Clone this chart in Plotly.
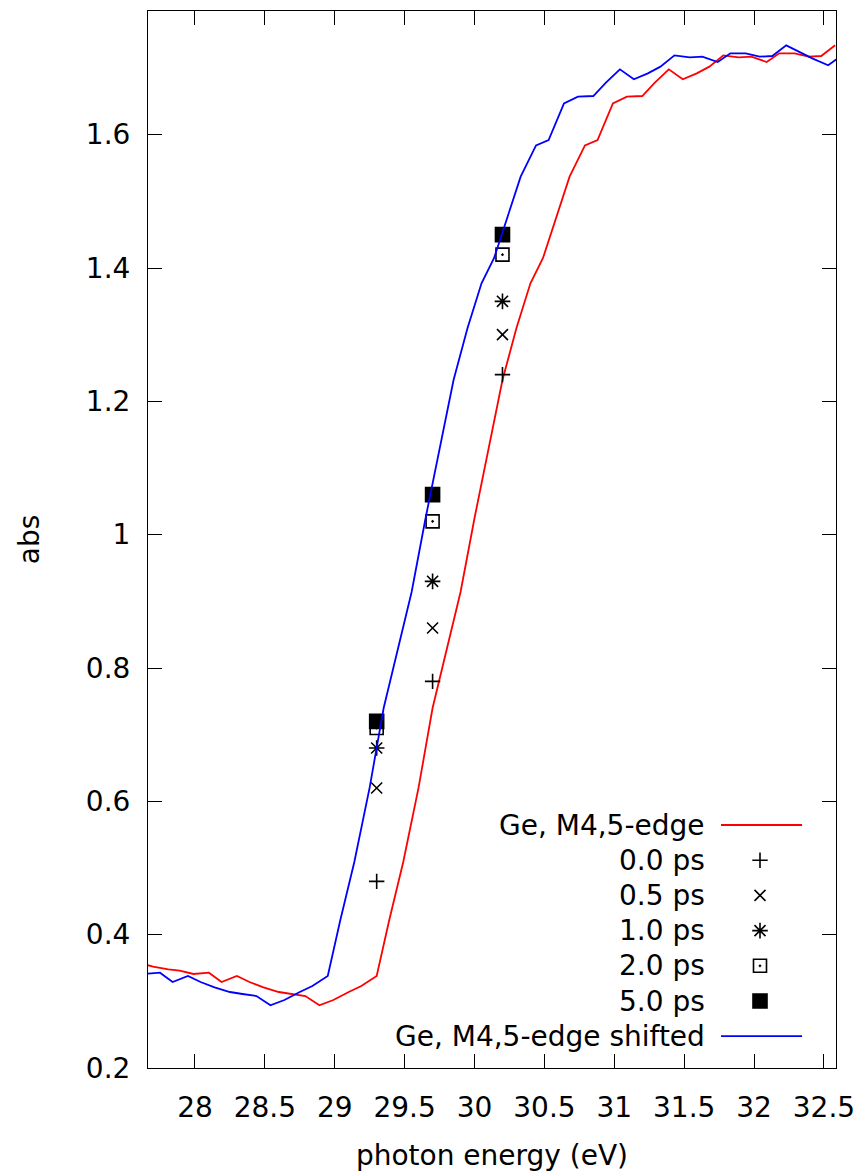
import plotly.graph_objects as go

# ---------------- data ----------------
energy_ev = [27.60, 27.70, 27.81, 27.89, 27.99, 28.10, 28.19, 28.30, 28.39, 28.49,
             28.60, 28.69, 28.79, 28.89, 28.99, 29.10, 29.19, 29.30, 29.39, 29.49,
             29.60, 29.70, 29.80, 29.90, 30.00, 30.10, 30.20, 30.30, 30.40, 30.49,
             30.59, 30.68, 30.79, 30.88, 30.99, 31.09, 31.20, 31.29, 31.39, 31.49,
             31.59, 31.68, 31.78, 31.89, 31.98, 32.09, 32.18, 32.29, 32.39, 32.48,
             32.58]
abs_edge = [0.358, 0.352, 0.348, 0.346, 0.341, 0.343, 0.329, 0.338, 0.329, 0.321,
            0.314, 0.311, 0.308, 0.294, 0.302, 0.314, 0.323, 0.338, 0.422, 0.509,
            0.621, 0.740, 0.827, 0.914, 1.025, 1.127, 1.232, 1.310, 1.377, 1.415,
            1.481, 1.537, 1.584, 1.592, 1.647, 1.657, 1.658, 1.678, 1.698, 1.683,
            1.692, 1.702, 1.719, 1.716, 1.717, 1.709, 1.722, 1.722, 1.717, 1.718,
            1.734]

energy_shifted_ev = [27.54, 27.64, 27.75, 27.84, 27.95, 28.04, 28.14, 28.25, 28.34, 28.44,
                     28.54, 28.64, 28.75, 28.84, 28.95, 29.04, 29.14, 29.25, 29.35, 29.45,
                     29.55, 29.65, 29.75, 29.85, 29.95, 30.05, 30.14, 30.24, 30.33, 30.44,
                     30.53, 30.64, 30.74, 30.85, 30.94, 31.04, 31.14, 31.24, 31.33, 31.43,
                     31.54, 31.63, 31.74, 31.83, 31.94, 32.04, 32.13, 32.23, 32.33, 32.42,
                     32.53, 32.63]
abs_shifted = [0.346, 0.341, 0.343, 0.329, 0.338, 0.329, 0.321, 0.314, 0.311, 0.308,
               0.294, 0.302, 0.314, 0.323, 0.338, 0.422, 0.509, 0.621, 0.740, 0.827,
               0.914, 1.025, 1.127, 1.232, 1.310, 1.377, 1.415, 1.481, 1.537, 1.584,
               1.592, 1.647, 1.657, 1.658, 1.678, 1.698, 1.683, 1.692, 1.702, 1.719,
               1.716, 1.717, 1.709, 1.722, 1.722, 1.717, 1.718, 1.734, 1.723, 1.714,
               1.704, 1.719]

probe_energy_ev = [29.3, 29.7, 30.2]
delay_labels = ["0.0 ps", "0.5 ps", "1.0 ps", "2.0 ps", "5.0 ps"]
abs_0p0ps = [0.48, 0.78, 1.24]
abs_0p5ps = [0.62, 0.86, 1.30]
abs_1p0ps = [0.68, 0.93, 1.35]
abs_2p0ps = [0.71, 1.02, 1.42]
abs_5p0ps = [0.72, 1.06, 1.45]

x_tick_vals = [28, 28.5, 29, 29.5, 30, 30.5, 31, 31.5, 32, 32.5]
x_tick_text = ["28", "28.5", "29", "29.5", "30", "30.5", "31", "31.5", "32", "32.5"]
y_tick_vals = [0.2, 0.4, 0.6, 0.8, 1.0, 1.2, 1.4, 1.6]
y_tick_text = ["0.2", "0.4", "0.6", "0.8", "1", "1.2", "1.4", "1.6"]

edge_label = "Ge, M4,5-edge"
shifted_label = "Ge, M4,5-edge shifted"

# ---------------- styling ----------------
FONT = "DejaVu Sans"
FS = 28
RED = "#ff0000"
BLUE = "#0000ff"
LW = 1.8
W, H = 864, 1172
L, R, T, B = 148, 28, 11, 104

delay_series = [abs_0p0ps, abs_0p5ps, abs_1p0ps, abs_2p0ps, abs_5p0ps]
delay_symbols = ["cross-thin-open", "x-thin-open", "asterisk-open", "square-open-dot", "square"]
delay_sizes = [11, 11, 13, 13, 14]

fig = go.Figure()

fig.add_trace(go.Scatter(x=energy_ev, y=abs_edge, mode="lines",
                         line=dict(color=RED, width=LW), showlegend=False))
for vals, sym, sz in zip(delay_series, delay_symbols, delay_sizes):
    fig.add_trace(go.Scatter(x=probe_energy_ev, y=vals, mode="markers",
                             marker=dict(symbol=sym, size=sz, color="black",
                                         line=dict(color="black", width=1.6)),
                             showlegend=False, cliponaxis=False))
fig.add_trace(go.Scatter(x=energy_shifted_ev, y=abs_shifted, mode="lines",
                         line=dict(color=BLUE, width=LW), showlegend=False))

# ---------------- custom gnuplot-style key (text right-aligned, sample on right) ----------------
plot_w = W - L - R
plot_h = H - T - B
def px_to_paper_x(px):
    return (px - L) / plot_w
def px_to_paper_y(py):
    return (H - B - py) / plot_h

key_text_right = px_to_paper_x(707)
key_line_x0 = px_to_paper_x(721)
key_line_x1 = px_to_paper_x(802)
key_marker_x = px_to_paper_x(760)
row0 = 825.0
row_step = 35.2

key_rows = [(edge_label, "line", RED)] + \
           [(lab, "marker", i) for i, lab in enumerate(delay_labels)] + \
           [(shifted_label, "line", BLUE)]

annotations = []
shapes = []
for i, (label, kind, style) in enumerate(key_rows):
    yy = px_to_paper_y(row0 + i * row_step)
    annotations.append(dict(x=key_text_right, y=yy, xref="paper", yref="paper",
                            xanchor="right", yanchor="middle", text=label,
                            showarrow=False, font=dict(family=FONT, size=FS, color="black")))
    if kind == "line":
        shapes.append(dict(type="line", xref="paper", yref="paper",
                           x0=key_line_x0, x1=key_line_x1, y0=yy, y1=yy,
                           line=dict(color=style, width=LW)))
    else:
        fig.add_trace(go.Scatter(x=[key_marker_x], y=[yy], xaxis="x2", yaxis="y2",
                                 mode="markers", showlegend=False, hoverinfo="skip",
                                 marker=dict(symbol=delay_symbols[style], size=delay_sizes[style],
                                             color="black", line=dict(color="black", width=1.6)),
                                 cliponaxis=False))

axis_common = dict(showline=True, linecolor="black", linewidth=1, mirror="allticks",
                   ticks="inside", ticklen=14, tickcolor="black", tickwidth=1,
                   showgrid=False, zeroline=False, automargin=False,
                   tickfont=dict(family=FONT, size=FS, color="black"))

fig.update_layout(
    template="none",
    width=W, height=H,
    margin=dict(l=L, r=R, t=T, b=B, autoexpand=False),
    paper_bgcolor="white", plot_bgcolor="white",
    font=dict(family=FONT, size=FS, color="black"),
    showlegend=False,
    xaxis=dict(range=[27.664, 32.586], tickvals=x_tick_vals, ticktext=x_tick_text,
               ticklabelstandoff=14,
               title=dict(text="photon energy (eV)", standoff=29,
                          font=dict(family=FONT, size=FS, color="black")),
               **axis_common),
    yaxis=dict(range=[0.2, 1.7855], tickvals=y_tick_vals, ticktext=y_tick_text,
               ticklabelstandoff=11,
               title=dict(text="abs", standoff=38,
                          font=dict(family=FONT, size=FS, color="black")),
               **axis_common),
    xaxis2=dict(overlaying="x", range=[0, 1], visible=False, fixedrange=True),
    yaxis2=dict(overlaying="y", range=[0, 1], visible=False, fixedrange=True),
    annotations=annotations,
    shapes=shapes,
)

fig.write_html("out.html")
